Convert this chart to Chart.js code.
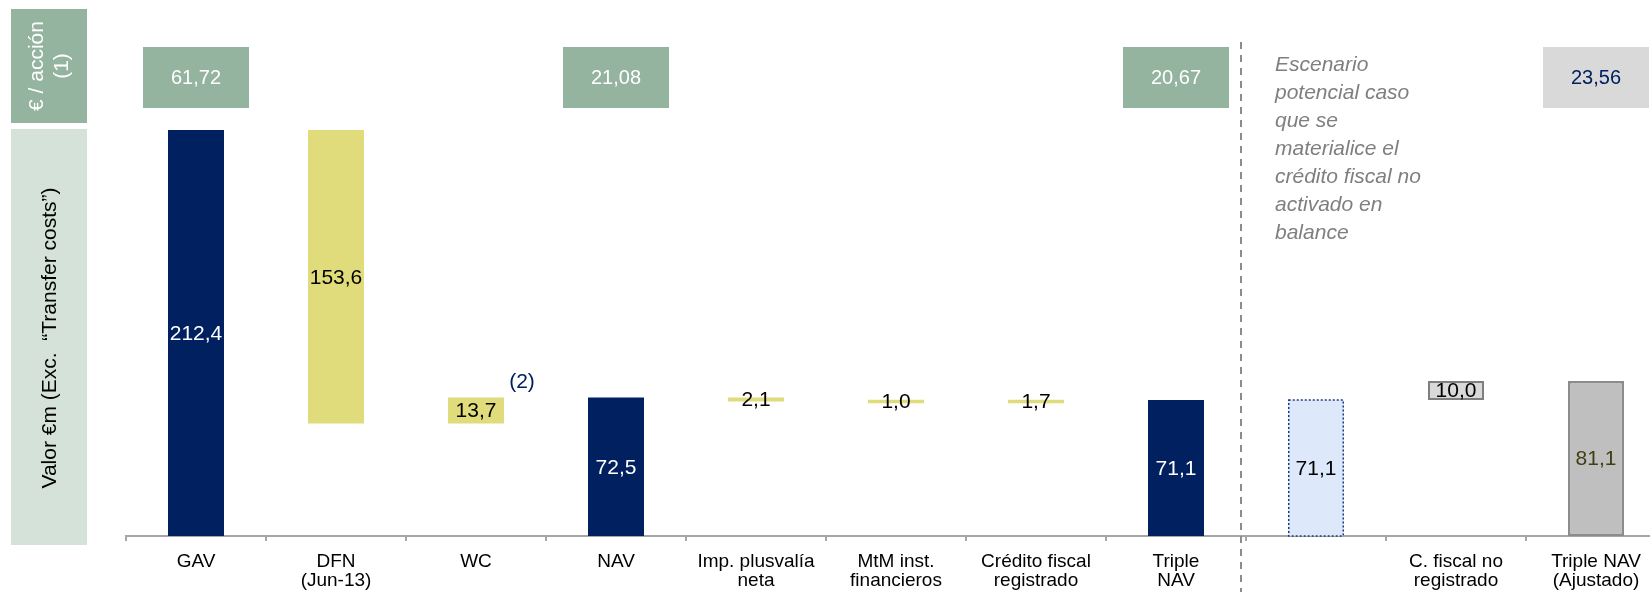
<!DOCTYPE html>
<html>
<head>
<meta charset="utf-8">
<script src="https://cdn.jsdelivr.net/npm/chart.js@4.4.1/dist/chart.umd.min.js"></script>
<style>
  html, body { margin: 0; padding: 0; overflow: hidden; background: #fff; }
  canvas { display: block; }
</style>
</head>
<body>
<canvas id="myChart" width="1666" height="592"></canvas>
<script>
// waterfall data (€m)
var categories = [['GAV'], ['DFN', '(Jun-13)'], ['WC'], ['NAV'], ['Imp. plusvalía', 'neta'],
  ['MtM inst.', 'financieros'], ['Crédito fiscal', 'registrado'], ['Triple', 'NAV'], [''],
  ['C. fiscal no', 'registrado'], ['Triple NAV', '(Ajustado)']];
var values = [212.4, -153.6, 13.7, 72.5, -2.1, -1.0, 1.7, 71.1, 71.1, 10.0, 81.1];
var isTotal = [true, false, false, true, false, false, false, true, true, false, true];

// € / acción boxes on top
var perShareCats = [0, 3, 7, 10];
var perShareLabels = ['61,72', '21,08', '20,67', '23,56'];

var noteLines = ['Escenario', 'potencial caso', 'que se', 'materialice el', 'crédito fiscal no', 'activado en', 'balance'];

var FONT = '"Liberation Sans", Arial, sans-serif';
var navy = '#002060';
var yellow = '#E0DC7C';
var sage = '#94B4A0';

// build floating bars from the deltas
var ranges = [];
var run = 0;
values.forEach(function (v, i) {
  if (isTotal[i]) {
    ranges.push([0, v]);
    run = v;
  } else {
    ranges.push([run, run + v]);
    run = run + v;
  }
});

var barColors = [navy, yellow, yellow, navy, yellow, yellow, yellow, navy, '#DDE8FA', '#D9D9D9', '#BFBFBF'];
var barBorders = [navy, yellow, yellow, navy, yellow, yellow, yellow, navy, '#DDE8FA', '#7F7F7F', '#8C8C8C'];
var barBorderW = [0, 0, 0, 0, 0, 0, 0, 0, 0, 2, 2.5];
var labelColors = ['#fff', '#000', '#000', '#fff', '#000', '#000', '#000', '#fff', '#000', '#000', '#3F3F12'];

function fmt(v) {
  return Math.abs(v).toFixed(1).replace('.', ',');
}

var overlay = {
  id: 'overlay',
  afterDraw: function (chart) {
    var ctx = chart.ctx;
    var xs = chart.scales.x, ys = chart.scales.y;
    var meta = chart.getDatasetMeta(0);
    ctx.save();

    // dotted outline on the scenario bar
    var sb = meta.data[8].getProps(['x', 'y', 'base', 'width'], true);
    ctx.setLineDash([2, 2]);
    ctx.strokeStyle = '#1F3A78';
    ctx.lineWidth = 1.5;
    ctx.strokeRect(sb.x - sb.width / 2 + 0.75, Math.min(sb.y, sb.base), sb.width - 1.5, Math.abs(sb.base - sb.y));
    ctx.setLineDash([]);

    // value labels
    ctx.font = '21px ' + FONT;
    ctx.textAlign = 'center';
    ctx.textBaseline = 'middle';
    meta.data.forEach(function (bar, i) {
      var p = bar.getProps(['x', 'y', 'base'], true);
      ctx.fillStyle = labelColors[i];
      ctx.fillText(fmt(values[i]), p.x, (p.y + p.base) / 2 + 1);
    });

    // (2) note next to WC
    ctx.fillStyle = navy;
    ctx.fillText('(2)', xs.getPixelForValue(2) + 46, ys.getPixelForValue(ranges[2][1]) - 15);

    // per share boxes
    ctx.font = '20px ' + FONT;
    perShareCats.forEach(function (c, k) {
      var cx = xs.getPixelForValue(c);
      var last = k === perShareCats.length - 1;
      ctx.fillStyle = last ? '#D9D9D9' : sage;
      ctx.fillRect(cx - 53, 47, 106, 61);
      ctx.fillStyle = last ? navy : '#fff';
      ctx.fillText(perShareLabels[k], cx, 78);
    });

    // left side headers
    ctx.fillStyle = sage;
    ctx.fillRect(11, 9, 76, 114);
    ctx.fillStyle = '#D5E2D9';
    ctx.fillRect(11, 129, 76, 416);
    ctx.font = '21px ' + FONT;
    ctx.save();
    ctx.translate(49, 66);
    ctx.rotate(-Math.PI / 2);
    ctx.fillStyle = '#fff';
    ctx.fillText('€ / acción', 0, -12);
    ctx.fillText('(1)', 0, 13);
    ctx.restore();
    ctx.save();
    ctx.translate(50, 338);
    ctx.rotate(-Math.PI / 2);
    ctx.fillStyle = '#000';
    ctx.fillText('Valor €m (Exc.  \u201CTransfer costs\u201D)', 0, 0);
    ctx.restore();

    // dashed separator
    var dx = (xs.getPixelForValue(7) + xs.getPixelForValue(8)) / 2 - 5;
    ctx.strokeStyle = '#8C8C8C';
    ctx.lineWidth = 2;
    ctx.setLineDash([7, 6]);
    ctx.beginPath();
    ctx.moveTo(dx, 42);
    ctx.lineTo(dx, 592);
    ctx.stroke();
    ctx.setLineDash([]);

    // scenario note
    ctx.font = 'italic 21px ' + FONT;
    ctx.fillStyle = '#7F7F7F';
    ctx.textAlign = 'left';
    noteLines.forEach(function (t, i) {
      ctx.fillText(t, dx + 34, 65 + i * 28);
    });

    ctx.restore();
  }
};

var ctx = document.getElementById('myChart');

var myChart = new Chart(ctx, {
  type: 'bar',
  data: {
    labels: categories,
    datasets: [{
      data: ranges,
      backgroundColor: barColors,
      borderColor: barBorders,
      borderWidth: barBorderW,
      borderSkipped: false,
      barPercentage: 0.4,
      categoryPercentage: 1,
      minBarLength: 3.5
    }]
  },
  options: {
    responsive: false,
    animation: false,
    events: [],
    layout: { padding: { left: 126, top: 130, right: 0, bottom: 0 } },
    plugins: {
      legend: { display: false },
      tooltip: { enabled: false }
    },
    scales: {
      x: {
        offset: true,
        grid: {
          offset: true,
          drawOnChartArea: false,
          drawTicks: true,
          tickLength: 5,
          color: '#A6A6A6',
          lineWidth: 2
        },
        border: { display: true, color: '#A6A6A6', width: 2 },
        ticks: {
          color: '#000',
          padding: 11,
          maxRotation: 0,
          autoSkip: false,
          font: { family: FONT, size: 19, lineHeight: 1.0 }
        },
        afterFit: function (scale) { scale.height = 56; }
      },
      y: {
        display: false,
        min: 0,
        max: 212.4
      }
    }
  },
  plugins: [overlay]
});
</script>
</body>
</html>
